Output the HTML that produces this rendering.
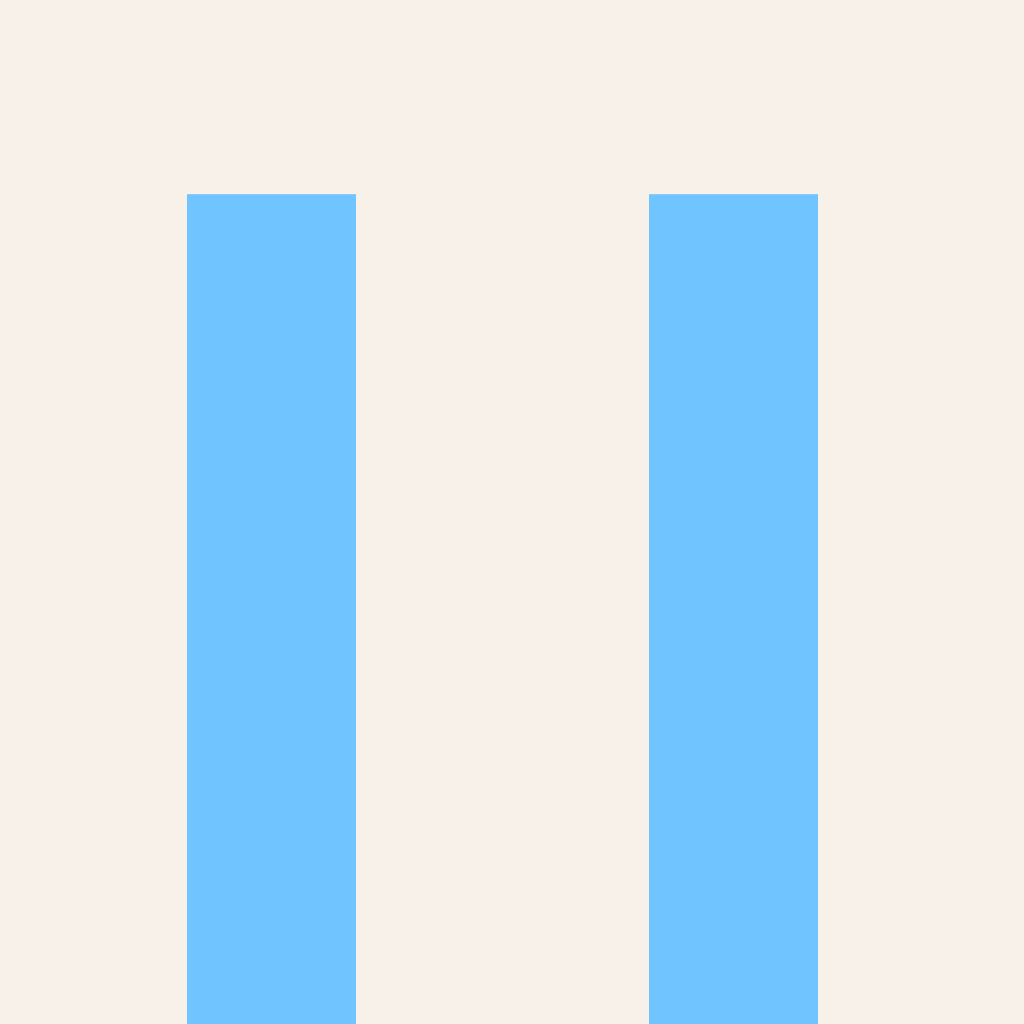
<!DOCTYPE html>
<html>
<head>
<meta charset="utf-8">
<style>
  html, body { margin: 0; padding: 0; background: #f7f1ea; }
  svg { display: block; }
</style>
</head>
<body>
<svg id="chart" width="1024" height="1024" viewBox="0 0 1024 1024">
  <rect x="0" y="0" width="1024" height="1024" fill="#f7f1ea"/>
  <g id="bars"></g>
</svg>
<script>
const categories = ["A", "B"];
const values = [100, 100];
const yMax = 123.4;

const plotLeft = 40.5, plotRight = 964.5, plotTop = 0, plotBottom = 1024;
const step = (plotRight - plotLeft) / categories.length;
const barWidth = 169;

function xScale(i) { return plotLeft + step * i + step / 2; }
function yScale(v) { return plotBottom - (v / yMax) * (plotBottom - plotTop); }

const g = document.getElementById('bars');
categories.forEach(function (c, i) {
  const r = document.createElementNS('http://www.w3.org/2000/svg', 'rect');
  const y = yScale(values[i]);
  r.setAttribute('x', xScale(i) - barWidth / 2);
  r.setAttribute('y', y);
  r.setAttribute('width', barWidth);
  r.setAttribute('height', plotBottom - y);
  r.setAttribute('fill', '#70c4ff');
  
  
  g.appendChild(r);
});
</script>
</body>
</html>
